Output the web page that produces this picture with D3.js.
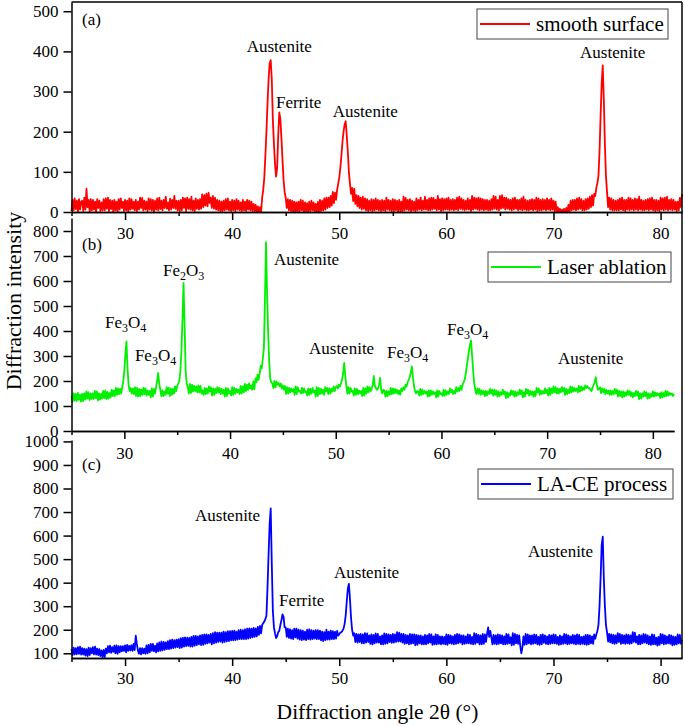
<!DOCTYPE html>
<html><head><meta charset="utf-8">
<script src="https://cdn.jsdelivr.net/npm/d3@7"></script>
<style>
body{margin:0;background:#fff;}
svg text{font-family:"Liberation Serif","Times New Roman",serif;fill:#000;}
</style></head><body>
<svg id="chart" width="685" height="726"></svg>
<script>
// ---------- DATA ----------
const angleStart = 25, angleStep = 0.1;   // 2θ sampling: 25.0, 25.1, ... 82.0

const smoothSurface = [
 2,30,4,34,7,28,0,32,6,26,
 28,2,36,6,58,12,30,0,32,4,
 30,6,26,0,32,10,28,2,24,4,
 32,4,34,8,36,2,30,7,28,0,
 30,4,26,0,32,6,34,10,26,2,
 30,4,28,0,34,6,32,8,26,4,
 30,2,26,6,36,10,35,4,28,6,
 26,2,34,6,32,4,30,1,28,6,
 34,4,36,7,28,4,30,10,38,8,
 24,4,33,6,30,10,40,8,28,4,
 28,2,30,4,36,10,34,2,36,8,
 32,6,38,4,28,2,34,8,30,6,
 32,8,44,12,42,16,46,14,48,22,
 36,10,40,8,36,6,30,4,28,2,
 26,2,28,4,32,6,34,4,26,2,
 30,4,28,2,32,6,28,4,24,2,
 30,4,26,2,30,6,28,4,26,2,
 20,2,18,0,14,0,12,0,35,55,
 85,140,200,270,330,370,378,330,230,170,
 120,88,110,190,248,232,185,130,80,50,
 35,10,32,4,30,2,28,0,26,0,
 24,0,26,2,30,4,28,0,24,2,
 22,0,26,2,28,4,24,0,20,0,
 25,0,30,2,28,4,34,6,36,10,
 36,12,40,16,50,22,48,30,55,70,
 85,110,140,175,200,218,226,190,150,100,
 70,45,60,27,58,20,42,14,40,10,
 36,6,38,8,34,4,32,2,28,4,
 32,2,30,4,34,6,30,4,28,2,
 30,4,28,2,36,6,30,4,28,2,
 32,2,30,4,28,0,30,2,26,0,
 38,4,35,6,30,4,32,2,28,4,
 26,2,34,4,30,6,36,4,28,6,
 38,6,30,4,34,4,36,6,35,8,
 30,4,40,6,32,2,34,4,32,6,
 34,6,36,4,30,6,32,4,30,6,
 36,4,38,8,34,6,30,4,28,6,
 34,6,30,2,40,6,36,8,34,6,
 36,4,34,6,32,4,30,6,30,4,
 28,4,32,6,40,8,38,6,30,4,
 40,8,42,10,36,6,36,8,32,6,
 30,4,34,6,36,8,30,4,30,6,
 34,4,38,6,30,4,28,4,30,6,
 32,4,30,6,36,2,34,4,30,4,
 32,6,30,4,34,6,30,4,34,6,
 28,2,26,0,12,0,8,0,6,0,
 8,0,10,0,18,0,28,4,30,6,
 30,4,34,6,36,8,32,4,28,4,
 32,6,34,8,38,12,42,16,45,40,
 60,72,90,150,240,320,365,280,170,90,
 50,12,36,6,34,4,30,4,28,4,
 30,4,34,6,36,4,30,2,30,6,
 36,4,34,6,30,4,34,6,32,4,
 38,6,30,4,28,4,30,6,32,4,
 34,6,36,4,30,2,30,4,28,2,
 36,6,34,4,36,6,38,4,30,6,
 32,4,30,6,26,2,26,4,35,12,
 45
];

const laserAblation = [
 140,118,150,122,148,120,152,125,145,118,
 148,120,150,126,158,130,155,124,150,128,
 150,128,160,132,158,122,150,126,148,130,
 160,132,162,128,156,130,152,134,165,140,
 162,140,172,145,170,148,168,150,175,200,
 240,310,358,250,185,160,172,150,170,148,
 175,140,172,138,168,140,165,145,172,148,
 170,142,162,145,160,135,170,138,168,150,
 175,200,232,190,165,140,162,140,158,145,
 175,150,172,140,170,145,168,150,178,160,
 180,190,200,240,320,450,592,420,240,190,
 175,150,188,152,185,158,180,160,178,155,
 182,155,180,150,162,145,172,148,170,150,
 178,158,175,142,170,145,168,152,175,155,
 172,148,168,150,165,138,172,140,170,150,
 160,142,175,145,172,150,168,155,165,148,
 180,150,178,155,188,160,185,165,190,170,
 182,165,198,168,210,195,225,205,230,260,
 250,290,330,520,755,560,400,280,210,195,
 190,172,200,175,198,185,192,178,190,170,
 182,165,180,148,175,150,172,155,170,158,
 168,145,178,148,175,158,160,150,172,152,
 170,155,158,142,170,145,168,150,172,155,
 162,138,175,140,172,148,168,150,165,145,
 175,158,172,148,170,150,168,158,178,160,
 175,180,170,185,178,192,205,230,272,220,
 180,150,175,150,172,158,160,142,170,145,
 168,148,162,150,160,140,172,142,170,150,
 178,155,175,160,168,185,220,180,172,165,
 170,185,212,165,150,165,162,138,160,140,
 158,145,172,148,170,150,168,152,165,148,
 162,145,170,160,175,165,185,178,195,205,
 215,235,258,215,180,160,150,160,158,142,
 168,145,165,148,160,150,158,138,162,140,
 162,145,158,148,155,135,162,138,160,148,
 150,140,165,142,162,145,158,148,170,155,
 165,148,160,150,175,158,172,160,180,165,
 185,195,205,230,260,290,320,345,362,300,
 240,190,165,148,170,150,168,145,162,148,
 160,140,160,142,158,148,168,150,165,142,
 165,145,162,138,158,140,155,145,165,148,
 158,132,155,135,152,142,162,145,160,138,
 158,140,155,145,165,148,162,135,155,138,
 168,150,165,142,160,145,158,138,158,140,
 172,155,170,145,162,148,160,150,170,152,
 165,142,172,145,170,152,178,155,175,150,
 170,150,168,155,175,158,172,145,168,148,
 165,152,178,155,175,158,172,160,170,155,
 180,158,178,162,175,165,182,172,180,170,
 172,165,160,175,185,195,215,185,165,168,
 175,152,170,155,168,148,165,150,162,145,
 162,145,160,148,168,150,165,138,160,140,
 158,135,158,138,155,142,162,145,160,140,
 155,135,152,140,160,142,158,128,150,130,
 150,138,158,140,155,130,150,132,148,138,
 158,138,155,140,152,142,150,132,155,135,
 152,138,160,140,158,142,152,145,150,140,
 148
];

const laCeProcess = [
 118,92,124,95,122,96,126,98,128,94,
 122,94,120,90,118,88,124,92,122,100,
 126,95,128,94,120,92,118,88,112,84,
 114,84,120,100,130,104,132,102,126,106,
 132,100,134,98,130,104,130,108,130,110,
 134,104,136,110,132,112,134,110,140,114,
 175,140,112,98,122,95,122,100,120,98,
 134,100,136,104,140,110,140,108,132,104,
 142,108,146,110,150,112,148,115,146,118,
 152,118,156,120,158,122,156,124,158,126,
 160,122,164,124,166,128,168,130,166,132,
 166,128,170,128,174,132,174,135,172,138,
 176,135,178,136,180,140,180,142,178,145,
 182,138,186,142,190,145,188,148,188,150,
 188,145,192,148,190,150,194,152,194,155,
 195,155,196,156,192,158,198,160,200,160,
 198,160,202,160,205,162,206,165,205,168,
 208,170,206,172,212,178,216,185,220,228,
 235,245,260,380,520,650,715,480,280,210,
 185,165,172,190,195,220,240,265,255,210,
 210,170,205,165,202,162,198,160,205,168,
 205,162,200,158,198,156,196,158,192,156,
 200,160,202,158,198,160,196,162,198,160,
 198,160,196,155,192,152,190,156,200,158,
 192,158,196,160,194,160,192,162,195,175,
 182,188,190,196,205,225,260,320,375,395,
 330,250,200,175,185,148,182,145,180,148,
 182,142,180,142,186,145,184,148,176,140,
 180,138,178,142,184,145,182,145,172,138,
 176,138,184,140,182,142,180,148,178,144,
 182,145,180,148,190,150,188,150,182,145,
 182,140,178,142,176,138,182,140,180,142,
 180,134,178,136,176,142,176,138,172,138,
 178,138,176,142,182,145,180,136,172,138,
 180,138,178,140,172,138,172,140,170,138,
 180,136,178,142,176,140,172,138,178,140,
 182,142,180,145,176,138,176,140,172,142,
 180,142,178,140,170,138,186,140,182,145,
 178,138,176,138,182,140,180,148,182,210,
 170,195,168,138,178,140,176,138,180,140,
 178,142,176,138,172,138,182,140,180,142,
 168,134,186,136,182,142,178,140,176,130,
 100,125,172,136,182,138,180,142,176,138,
 176,140,180,142,178,138,170,136,178,138,
 180,144,176,140,172,138,178,140,176,142,
 180,142,178,140,170,136,176,138,172,140,
 182,142,180,138,176,140,172,142,178,140,
 176,138,180,140,178,138,170,140,172,138,
 178,136,178,138,176,142,172,140,180,162,
 180,195,220,300,420,560,595,420,300,220,
 190,150,182,146,180,142,178,140,176,142,
 186,148,182,140,178,142,176,140,180,142,
 178,140,176,142,190,148,188,145,172,138,
 178,138,176,142,182,145,180,142,176,138,
 172,136,180,138,178,138,166,133,170,136,
 182,142,180,138,176,140,172,142,178,140,
 176,134,172,136,170,138,180,142,178,140,
 158
];

const xTicksMajor = [30, 40, 50, 60, 70, 80];
const xTicksMinor = [25, 35, 45, 55, 65, 75];
const yTicksA = [0, 100, 200, 300, 400, 500];
const yTicksB = [0, 100, 200, 300, 400, 500, 600, 700, 800];
const yTicksC = [100, 200, 300, 400, 500, 600, 700, 800, 900, 1000];
const seriesNames = ["smooth surface", "Laser ablation", "LA-CE process"];
const panelTags = ["(a)", "(b)", "(c)"];
// peak labels: [text, angle of left edge, intensity at baseline]
const peakLabelsA = [["Austenite",41.36,398],["Ferrite",44.09,259],["Austenite",49.39,237],["Austenite",72.48,384]];
const peakLabelsB = [["Fe3O4",28.17,412],["Fe3O4",31.0,280],["Fe2O3",33.66,620],["Austenite",44.16,664],
                     ["Austenite",47.47,308],["Fe3O4",54.85,292],["Fe3O4",60.53,384],["Austenite",71.03,268]];
const peakLabelsC = [["Austenite",36.53,662],["Ferrite",44.37,301],["Austenite",49.51,420],["Austenite",67.62,509]];

// ---------- DRAW ----------
const svg = d3.select("#chart");
const colors = ["#ff0000", "#00f000", "#0000ff"];
const serif = "'Liberation Serif','Times New Roman',serif";
const tickFont = 17, labelFont = 17;

const panels = [
  {data: smoothSurface, x: d3.scaleLinear([25,82],[71.5,682]), y: d3.scaleLinear([0,523],[212,2]),
   yTicks: yTicksA, labels: peakLabelsA, tagY: 25, pad: 7,
   legend: {x0:477, y0:9, x1:668, y1:39}},
  {data: laserAblation, x: d3.scaleLinear([25,82],[71.5,674]), y: d3.scaleLinear([0,852],[431,218]),
   yTicks: yTicksB, labels: peakLabelsB, tagY: 250, pad: 8,
   legend: {x0:488, y0:252, x1:671, y1:282}},
  {data: laCeProcess, x: d3.scaleLinear([25,82],[71.5,682]), y: d3.scaleLinear([80,1006],[658,440]),
   yTicks: yTicksC, labels: peakLabelsC, tagY: 470, pad: 6,
   legend: {x0:478, y0:469, x1:673, y1:499}}
];

function chem(sel, str) {
  const parts = str.match(/[A-Za-z]+|\d+/g);
  let first = true;
  parts.forEach(p => {
    if (/\d/.test(p)) {
      sel.append("tspan").attr("font-size", 12).attr("dy", 4).text(p);
    } else {
      const t = sel.append("tspan").text(p);
      if (!first) t.attr("dy", -4);
    }
    first = false;
  });
}

panels.forEach((p, i) => {
  const g = svg.append("g");
  const line = d3.line()
    .x((d, k) => p.x(angleStart + k * angleStep))
    .y(d => p.y(d));
  g.append("path").datum(p.data)
    .attr("fill", "none").attr("stroke", colors[i])
    .attr("stroke-width", 1.8).attr("stroke-linejoin", "round")
    .attr("d", line);

  const yAx = g.append("g").attr("transform", `translate(${p.x.range()[0]},0)`)
    .call(d3.axisLeft(p.y).tickValues(p.yTicks).tickFormat(d3.format("d"))
      .tickSize(8).tickSizeOuter(0).tickPadding(5));
  const y0 = p.y.range()[0];
  const xAx = g.append("g").attr("transform", `translate(0,${y0})`)
    .call(d3.axisBottom(p.x).tickValues(xTicksMajor).tickFormat(d3.format("d"))
      .tickSize(8).tickSizeOuter(0).tickPadding(p.pad));
  const xMin = g.append("g").attr("transform", `translate(0,${y0})`)
    .call(d3.axisBottom(p.x).tickValues(xTicksMinor).tickSize(4).tickSizeOuter(0).tickFormat(""));
  [yAx, xAx, xMin].forEach(a => {
    a.attr("font-family", serif).attr("font-size", tickFont);
    a.selectAll("path,line").attr("stroke", "#000").attr("stroke-width", 1.5);
    a.selectAll("text").attr("font-size", tickFont).attr("fill", "#000").style("font-family", serif);
  });

  g.append("text").attr("x", 82).attr("y", p.tagY).attr("font-size", labelFont).text(panelTags[i]);

  p.labels.forEach(([t, ang, val]) => {
    const tx = g.append("text").attr("x", p.x(ang)).attr("y", p.y(val)).attr("font-size", labelFont);
    if (/\d/.test(t)) chem(tx, t); else tx.text(t);
  });

  const L = p.legend;
  g.append("rect").attr("x", L.x0).attr("y", L.y0).attr("width", L.x1 - L.x0).attr("height", L.y1 - L.y0)
    .attr("fill", "#fff").attr("stroke", "#444").attr("stroke-width", 1);
  const ly = (L.y0 + L.y1) / 2;
  g.append("line").attr("x1", L.x0 + 3).attr("x2", L.x0 + 53).attr("y1", ly).attr("y2", ly)
    .attr("stroke", colors[i]).attr("stroke-width", 2);
  g.append("text").attr("x", L.x0 + 59).attr("y", ly + 7).attr("font-size", 21).text(seriesNames[i]);
});

svg.append("line").attr("x1", 71.5).attr("x2", 682).attr("y1", 2).attr("y2", 2).attr("stroke", "#000").attr("stroke-width", 1.5);
svg.append("line").attr("x1", 682).attr("x2", 682).attr("y1", 2).attr("y2", 658).attr("stroke", "#000").attr("stroke-width", 1.5);

svg.append("text").attr("transform", "translate(21,301) rotate(-90)").attr("text-anchor", "middle")
  .attr("font-size", 22).text("Diffraction intensity");
svg.append("text").attr("x", 377.5).attr("y", 719).attr("text-anchor", "middle")
  .attr("font-size", 21.5).text("Diffraction angle 2θ (°)");
</script>
</body></html>
